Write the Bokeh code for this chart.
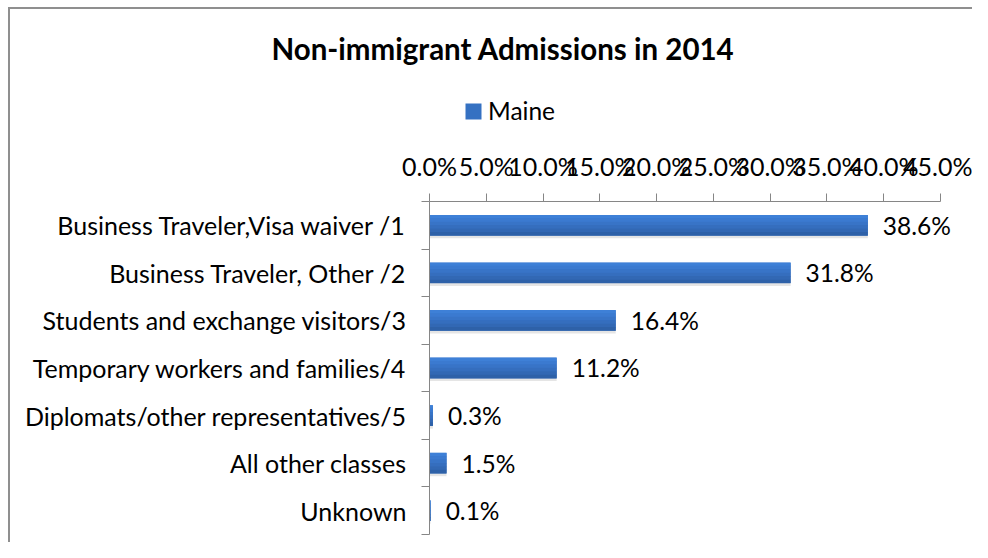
from bokeh.plotting import figure
from bokeh.models import (Range1d, FixedTicker, NumeralTickFormatter,
                          Legend, LegendItem, ColumnDataSource)
from bokeh.embed import file_html
from bokeh.resources import INLINE
from bokeh.core.properties import value

# ---- data ----
title_text = "Non-immigrant Admissions in 2014"
series_name = "Maine"
categories = [
    "Business Traveler,Visa waiver /1",
    "Business Traveler, Other /2",
    "Students and exchange visitors/3",
    "Temporary workers and families/4",
    "Diplomats/other representatives/5",
    "All other classes",
    "Unknown",
]
maine = [0.386, 0.318, 0.164, 0.112, 0.003, 0.015, 0.001]
x_ticks = [0.0, 0.05, 0.10, 0.15, 0.20, 0.25, 0.30, 0.35, 0.40, 0.45]

FONT = "Lato"
FS = "24.5px"
GRAY = "#868686"
BORDER = "#8f8f8f"

n = len(categories)
ypos = [n - i - 0.5 for i in range(n)]
labels = [f"{v * 100:.1f}%" for v in maine]
bar_h = 0.43

src = ColumnDataSource(dict(
    y=ypos, v=maine, lab=labels,
    ys=[y - 0.06 for y in ypos],
))

# frame: full width 0..972px, top 90px .. bottom 542px
p = figure(width=972, height=542, output_backend="svg", toolbar_location=None,
           x_range=Range1d(-0.37779, 0.47818), y_range=Range1d(-0.1682, n + 2.3333),
           x_axis_location="above", title=title_text,
           min_border_left=0, min_border_right=0,
           min_border_top=90, min_border_bottom=0)
p.styles = {
    "background-image": f"linear-gradient({BORDER},{BORDER}), linear-gradient({BORDER},{BORDER})",
    "background-position": "8px 7px, 8px 7px",
    "background-size": "2px 100%, 100% 2px",
    "background-repeat": "no-repeat",
}
p.grid.visible = False
p.outline_line_color = None
p.background_fill_alpha = 0
p.border_fill_alpha = 0

# title
p.title.text_font = FONT
p.title.text_font_style = "bold"
p.title.text_font_size = "29.5px"
p.title.text_color = "black"
p.title.align = "left"
p.title.offset = 271
p.title.vertical_align = "bottom"
p.title.standoff = 49

# top axis, fixed at the top edge of the category band
xa = p.xaxis[0]
xa.fixed_location = n
xa.ticker = FixedTicker(ticks=x_ticks)
xa.formatter = NumeralTickFormatter(format="0.0%")
xa.bounds = (x_ticks[0], x_ticks[-1])
xa.axis_line_color = GRAY
xa.major_tick_line_color = GRAY
xa.major_tick_out = 8
xa.major_tick_in = 0
xa.minor_tick_line_color = None
xa.major_label_text_font = FONT
xa.major_label_text_font_size = "25px"
xa.major_label_text_color = "black"
xa.major_label_standoff = 12

# left axis, fixed at zero
ya = p.yaxis[0]
ya.fixed_location = 0
ya.bounds = (0, n)
ya.ticker = FixedTicker(ticks=ypos, minor_ticks=list(range(n + 1)))
ya.major_label_overrides = {y: c for y, c in zip(ypos, categories)}
ya.axis_line_color = GRAY
ya.major_tick_out = 0
ya.major_tick_in = 0
ya.major_tick_line_color = None
ya.minor_tick_out = 8
ya.minor_tick_in = 0
ya.minor_tick_line_color = GRAY
ya.major_label_text_font = FONT
ya.major_label_text_font_size = "25px"
ya.major_label_text_color = "black"
ya.major_label_standoff = 15

# bars: shadow, base, gradient strips
p.hbar(y="ys", left=0, right="v", height=bar_h, source=src,
       fill_color="black", fill_alpha=0.10, line_color=None)
r = p.hbar(y="y", left=0, right="v", height=bar_h, source=src,
           fill_color="#3571c2", line_color=None)
strip_cols = ["#3e80d7", "#3b7ad0", "#3874c7", "#356ebe", "#3268b4", "#2e61a8"]
ns = len(strip_cols)
for k, col in enumerate(strip_cols):
    off = bar_h * (ns - 1 - 2 * k) / (2.0 * ns)
    p.hbar(y=[y + off for y in ypos], left=0, right=maine, height=bar_h / ns * 1.1,
           fill_color=col, line_color=None)

# value labels
p.text(x="v", y="y", text="lab", source=src, x_offset=15,
       text_align="left", text_baseline="middle",
       text_font=value(FONT), text_font_size=FS, text_color="black")

# legend (inside frame, above the axis)
legend = Legend(items=[LegendItem(label=series_name, renderers=[r])],
                location=(463, 417), orientation="horizontal",
                glyph_width=20, glyph_height=20, label_standoff=5,
                padding=0, margin=0, spacing=0,
                border_line_color=None, background_fill_alpha=0,
                label_text_font=FONT, label_text_font_size=FS,
                label_text_color="black")
p.add_layout(legend)

open("out.html", "w").write(file_html(p, INLINE))
